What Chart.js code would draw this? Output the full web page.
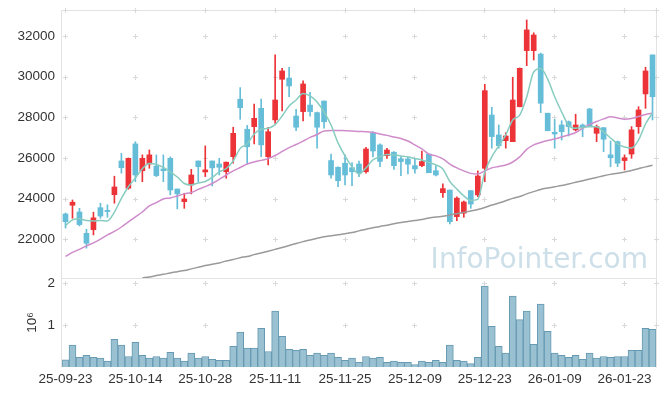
<!DOCTYPE html>
<html>
<head>
<meta charset="utf-8">
<script src="https://cdn.jsdelivr.net/npm/chart.js@4.4.1/dist/chart.umd.min.js"></script>
<style>
  html, body { margin: 0; padding: 0; background: #fff; }
  #chart { display: block; width: 665px; height: 396px; }
</style>
</head>
<body>
<canvas id="chart" width="665" height="396"></canvas>
<script>
// trading days shown (YY-MM-DD)
const dates = [
  '25-09-23','25-09-24','25-09-25','25-09-26','25-09-29','25-09-30','25-10-01','25-10-02','25-10-10','25-10-13',
  '25-10-14','25-10-15','25-10-16','25-10-17','25-10-20','25-10-21','25-10-22','25-10-23','25-10-24','25-10-27',
  '25-10-28','25-10-29','25-10-30','25-10-31','25-11-03','25-11-04','25-11-05','25-11-06','25-11-07','25-11-10',
  '25-11-11','25-11-12','25-11-13','25-11-14','25-11-17','25-11-18','25-11-19','25-11-20','25-11-21','25-11-24',
  '25-11-25','25-11-26','25-11-27','25-11-28','25-12-01','25-12-02','25-12-03','25-12-04','25-12-05','25-12-08',
  '25-12-09','25-12-10','25-12-11','25-12-12','25-12-15','25-12-16','25-12-17','25-12-18','25-12-19','25-12-22',
  '25-12-23','25-12-24','25-12-26','25-12-29','25-12-30','26-01-02','26-01-05','26-01-06','26-01-07','26-01-08',
  '26-01-09','26-01-12','26-01-13','26-01-14','26-01-15','26-01-16','26-01-19','26-01-20','26-01-21','26-01-22',
  '26-01-23','26-01-26','26-01-27','26-01-28','26-01-29'
];

const opens = [
  23240,23670,23340,22290,22470,23550,23420,24190,25850,24510,
  26690,25370,25700,25600,25460,25980,24470,23850,24670,25850,
  25310,25850,25700,25320,26060,28890,27410,27540,28440,26060,
  27870,29870,29930,28060,28280,28600,28230,28800,25870,25540,
  25740,25520,25700,25320,27210,26640,26110,26280,25960,25950,
  25620,25620,26190,25370,24290,24420,23110,23280,24390,24180,
  25490,28110,27130,26850,26800,28520,31280,31280,31110,28200,
  27260,27620,27780,27380,27620,28410,27210,27490,26150,26800,
  25870,26190,27540,29150,31070
];
const highs = [
  23290,23930,23520,22490,23330,23770,23690,25100,26230,26000,
  26800,26150,26390,26150,26150,26050,24470,24260,25440,25850,
  26590,25850,25980,25800,27510,29460,27600,28650,28890,27500,
  31070,30410,30460,28390,29790,29230,28250,28800,26190,25560,
  26150,25770,25850,26520,27300,26690,26470,26310,26060,26060,
  25980,26340,26190,25600,24720,24420,24090,23880,24400,25360,
  29620,28490,27620,27240,29970,30430,32790,32160,31160,28200,
  27900,27830,27820,28150,27670,28440,27620,27490,26830,26830,
  26150,27540,28520,30460,31070
];
const lows = [
  22550,23030,22650,21560,22210,23030,23080,23770,25250,24460,
  24830,24830,25490,25080,24830,24180,23490,23520,24230,24830,
  25080,24620,25160,25000,25740,27900,25700,26690,26060,25650,
  27700,28310,29020,27340,27820,28060,26480,27460,25000,24590,
  24670,24640,25080,25250,26050,25570,25980,25440,25130,25210,
  25250,25570,25270,25110,24060,22750,22910,23080,23520,24090,
  24830,26480,26480,26480,26800,28510,30540,30820,28230,27330,
  26480,26880,27080,27330,27050,27540,26800,26310,25570,25570,
  25410,25980,27210,28440,27870
];
const closes = [
  22860,23820,22720,21800,23050,23140,23360,24570,25520,25980,
  25160,25980,26150,25130,25370,24420,24230,23980,25160,25570,
  25410,25510,25540,25790,27210,28470,26550,27950,26640,27290,
  28850,30280,29540,27510,29640,28280,27510,27780,25160,24880,
  25160,25320,25270,26440,26340,25830,26390,25620,25820,25690,
  25460,25820,25270,25160,24490,22860,24020,23830,23730,25110,
  29310,27050,26600,27080,28850,30410,32300,32050,28690,27340,
  27180,27290,27540,27620,27520,27570,27540,26920,26010,25740,
  26010,27380,28360,30280,29010
];

// volume in units of 10^6 shares
const volumes = [
  0.17,0.52,0.23,0.28,0.23,0.21,0.14,0.66,0.52,0.25,
  0.59,0.28,0.21,0.25,0.21,0.35,0.21,0.14,0.33,0.21,
  0.25,0.18,0.16,0.16,0.49,0.83,0.45,0.45,0.92,0.37,
  1.33,0.73,0.42,0.40,0.42,0.28,0.33,0.28,0.33,0.23,
  0.16,0.21,0.11,0.25,0.21,0.23,0.11,0.14,0.11,0.11,
  0.06,0.14,0.11,0.16,0.11,0.52,0.16,0.14,0.08,0.23,
  1.93,0.97,0.49,0.33,1.69,1.13,1.33,0.54,1.50,0.85,
  0.33,0.28,0.23,0.28,0.18,0.33,0.21,0.25,0.23,0.25,
  0.25,0.40,0.40,0.92,0.90
];

// moving averages
const ma5 = [
  22670,22950,23000,22920,22900,22920,22900,23330,24010,24580,
  25010,25470,25730,25690,25530,25310,25060,24740,24670,24770,
  24840,25040,25310,25480,25850,26470,26690,27180,27410,27460,
  27640,28060,28560,28850,29170,29050,28750,28260,27620,26740,
  26100,25560,25210,25510,25900,26050,26170,26150,26100,26050,
  25970,25900,25780,25650,25460,24840,24470,24130,23910,23960,
  25310,26050,26590,27130,27870,28110,29000,30230,30400,29880,
  29010,28260,27600,27460,27500,27540,27540,27280,26980,26690,
  26540,26490,26880,27670,28210
];
const ma20 = [
  21150,21350,21500,21670,21820,22000,22210,22380,22600,22850,
  23100,23340,23640,23800,23980,24030,24130,24230,24300,24450,
  24590,24740,24940,25160,25360,25530,25700,25800,25880,25970,
  26120,26320,26510,26660,26830,27010,27150,27330,27350,27350,
  27340,27330,27300,27290,27250,27180,27110,27030,26960,26830,
  26640,26440,26190,26100,25950,25700,25510,25360,25240,25210,
  25360,25510,25580,25650,25800,26050,26420,26640,26760,26860,
  26930,27030,27130,27250,27450,27650,27790,27920,28020,27970,
  27900,27940,28040,28140,28200
];
const ma120 = [
  null,null,null,null,null,null,null,null,null,null,
  null,20100,20140,20210,20270,20340,20400,20460,20540,20620,
  20700,20770,20830,20930,21000,21090,21150,21240,21320,21410,
  21500,21590,21690,21790,21880,21960,22050,22120,22170,22220,
  22270,22330,22410,22490,22560,22630,22690,22760,22820,22870,
  22920,22970,23040,23090,23130,23190,23250,23320,23390,23460,
  23560,23680,23780,23890,24010,24100,24230,24340,24450,24520,
  24580,24640,24720,24800,24880,24960,25040,25120,25190,25240,
  25310,25380,25470,25560,25640
];

const priceTicks = [22000, 24000, 26000, 28000, 30000, 32000];
const volTicks   = [1, 2];
const labelEvery = 10;

const RED  = '#ec3338';
const BLUE = '#66bdd8';
const candleColors = closes.map((c, i) => c >= opens[i] ? RED : BLUE);

const TICK_FONT = { family: '"Liberation Sans", Arial, "DejaVu Sans", sans-serif', size: 13.5 };

// grid crosses, frame and watermark, drawn under the data
const framePlugin = {
  id: 'frame',
  beforeDatasetsDraw(chart) {
    const { ctx, chartArea: a, scales } = chart;
    const sep = Math.round(scales.yv.top) + 0.5;
    ctx.save();

    ctx.font = '28px "DejaVu Sans", sans-serif';
    ctx.fillStyle = '#cddfe9';
    ctx.textAlign = 'right';
    ctx.textBaseline = 'alphabetic';
    ctx.fillText('InfoPointer.com', a.right - 8, sep - 11);

    ctx.strokeStyle = '#e3e3e3';
    ctx.lineWidth = 1;
    const L = Math.round(a.left) - 0.5, R = Math.round(a.right) + 0.5;
    const T = Math.round(a.top) + 0.5,  B = Math.round(a.bottom) + 0.5;
    ctx.beginPath();
    ctx.moveTo(L, B); ctx.lineTo(L, T); ctx.lineTo(R, T); ctx.lineTo(R, B);
    ctx.moveTo(L, sep); ctx.lineTo(R, sep);
    ctx.stroke();

    const xs = [];
    for (let i = 0; i < dates.length; i += labelEvery) xs.push(Math.floor(scales.x.getPixelForValue(i)) + 0.5);
    xs.push(R);
    const ys = [T]
      .concat(priceTicks.map(v => Math.round(scales.y.getPixelForValue(v)) + 0.5))
      .concat(volTicks.map(v => Math.round(scales.yv.getPixelForValue(v)) + 0.5));
    ctx.strokeStyle = '#d9d9d9';
    ctx.beginPath();
    xs.forEach(x => ys.forEach(y => {
      ctx.moveTo(x - 2.5, y); ctx.lineTo(x + 2.5, y);
      ctx.moveTo(x, y - 2.5); ctx.lineTo(x, y + 2.5);
    }));
    ctx.stroke();
    ctx.restore();
  }
};

const lineStyle = { type: 'line', yAxisID: 'y', borderWidth: 1.5, pointRadius: 0,
                    cubicInterpolationMode: 'monotone', fill: false, order: 1 };

// fixed axis width, no extra label padding pushing the plot area
const fitY = s => { s.width = 62; s.paddingTop = 0; s.paddingBottom = 0; };

new Chart(document.getElementById('chart'), {
  type: 'bar',
  data: {
    labels: dates,
    datasets: [
      { ...lineStyle, label: 'MA5',   data: ma5,   borderColor: '#88ccc0' },
      { ...lineStyle, label: 'MA20',  data: ma20,  borderColor: '#cf8ccb' },
      { ...lineStyle, label: 'MA120', data: ma120, borderColor: '#9a9a9a' },
      {
        label: 'body', yAxisID: 'y', order: 2, grouped: false,
        data: opens.map((o, i) => [o, closes[i]]),
        backgroundColor: candleColors, barThickness: 5, minBarLength: 1
      },
      {
        label: 'wick', yAxisID: 'y', order: 3, grouped: false,
        data: lows.map((l, i) => [l, highs[i]]),
        backgroundColor: candleColors, barThickness: 1
      },
      {
        label: 'volume', yAxisID: 'yv', order: 4, grouped: false,
        data: volumes,
        backgroundColor: '#9ac1d1', borderColor: '#6699b2', borderWidth: 1,
        barPercentage: 1, categoryPercentage: 1
      }
    ]
  },
  options: {
    responsive: false,
    devicePixelRatio: 1,
    animation: false,
    layout: { padding: { top: 10, right: 9, left: 0, bottom: 0 } },
    plugins: { legend: { display: false }, tooltip: { enabled: false } },
    scales: {
      x: {
        type: 'category',
        offset: true,
        grid: { display: false, drawTicks: false },
        border: { display: false },
        ticks: {
          autoSkip: false, maxRotation: 0, padding: 4,
          color: '#333', font: TICK_FONT,
          callback: (v, i) => i % labelEvery === 0 ? dates[i] : ''
        },
        afterFit: s => { s.height = 29; s.paddingLeft = 0; s.paddingRight = 0; }
      },
      yv: {
        position: 'left', stack: 'panes', stackWeight: 89,
        min: 0, max: 2.12,
        grid: { display: false, drawTicks: false },
        border: { display: false },
        afterBuildTicks: s => { s.ticks = volTicks.map(v => ({ value: v })); },
        ticks: { padding: 7, color: '#333', font: TICK_FONT, callback: v => String(v) },
        title: {
          display: true, text: '10⁶', color: '#333',
          font: { family: '"Liberation Sans", "DejaVu Sans", sans-serif', size: 13.5 },
          padding: { top: 24, bottom: 0 }
        },
        afterFit: fitY
      },
      y: {
        position: 'left', stack: 'panes', stackWeight: 268,
        min: 20090, max: 33280,
        grid: { display: false, drawTicks: false },
        border: { display: false },
        afterBuildTicks: s => { s.ticks = priceTicks.map(v => ({ value: v })); },
        ticks: { padding: 7, color: '#333', font: TICK_FONT, callback: v => String(v) },
        afterFit: fitY
      }
    }
  },
  plugins: [framePlugin]
});
</script>
</body>
</html>
